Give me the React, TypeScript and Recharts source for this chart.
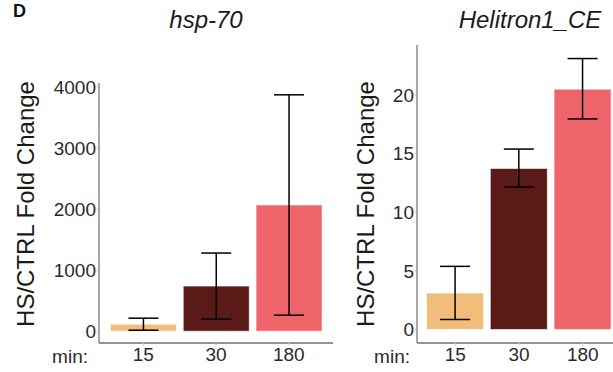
import React from 'react';
import { BarChart, Bar, XAxis, YAxis, ErrorBar, Cell } from 'recharts';

const categories = ['15', '30', '180'];
const barColors = ['#F2BC7B', '#5A1A17', '#EF636B'];

const hspMean = [115, 738, 2066];
const hspLow = [16, 197, 262];
const hspHigh = [213, 1279, 3869];
const hspTicks = [0, 1000, 2000, 3000, 4000];

const heliMean = [3.1, 13.73, 20.49];
const heliLow = [0.85, 12.14, 17.95];
const heliHigh = [5.38, 15.38, 23.1];
const heliTicks = [0, 5, 10, 15, 20];

const panelTitles = ['hsp-70', 'Helitron1_CE'];
const yLabel = 'HS/CTRL Fold Change';
const xPrefix = 'min:';
const panelTag = 'D';

const FONT = '"Liberation Sans", Arial, sans-serif';

function build(mean: number[], low: number[], high: number[]) {
  return categories.map((c, i) => ({
    cat: c,
    value: mean[i],
    err: [mean[i] - low[i], high[i] - mean[i]],
  }));
}

type PanelProps = {
  left: number;
  top: number;
  width: number;
  height: number;
  yAxisWidth: number;
  marginRight: number;
  data: any[];
  ticks: number[];
  maxHigh: number;
  pad: number;
  capWidth: number;
};

function Panel(p: PanelProps) {
  const domain = [-0.05 * p.maxHigh, 1.05 * p.maxHigh];
  return (
    <div style={{ position: 'absolute', left: p.left, top: 0 }}>
      <BarChart
        width={p.width}
        height={p.height}
        data={p.data}
        margin={{ top: p.top, right: p.marginRight, left: 0, bottom: 0 }}
        barCategoryGap="5%"
      >
        <XAxis
          dataKey="cat"
          height={29}
          padding={{ left: p.pad, right: p.pad }}
          axisLine={{ stroke: '#707070', strokeWidth: 1.5 }}
          tickLine={{ stroke: '#d8d8d8' }}
          tickSize={3}
          tickMargin={2}
          tick={{ fill: '#2a2a2a', fontSize: 19, fontFamily: FONT }}
          interval={0}
        />
        <YAxis
          type="number"
          width={p.yAxisWidth}
          domain={domain}
          allowDataOverflow
          ticks={p.ticks}
          axisLine={{ stroke: '#8a8a8a', strokeWidth: 1.5 }}
          tickLine={{ stroke: '#b0b0b0' }}
          tickSize={2}
          tickMargin={1}
          tick={{ fill: '#2a2a2a', fontSize: 19, fontFamily: FONT }}
        />
        <Bar dataKey="value" isAnimationActive={false} stroke="rgba(255,255,255,0.6)" strokeWidth={1}>
          {p.data.map((d, i) => (
            <Cell key={d.cat} fill={barColors[i]} />
          ))}
          <ErrorBar dataKey="err" width={p.capWidth} stroke="#000" strokeWidth={1.5} direction="y" />
        </Bar>
      </BarChart>
    </div>
  );
}

export default function App() {
  const hspData = build(hspMean, hspLow, hspHigh);
  const heliData = build(heliMean, heliLow, heliHigh);
  return (
    <div
      style={{
        position: 'absolute',
        left: 0,
        top: 0,
        width: 613,
        height: 372,
        overflow: 'hidden',
        background: '#fff',
        fontFamily: FONT,
      }}
    >
      <Panel
        left={0}
        top={83}
        width={340}
        height={372}
        yAxisWidth={99}
        marginRight={7}
        data={hspData}
        ticks={hspTicks}
        maxHigh={Math.max(...hspHigh)}
        pad={7.8}
        capWidth={15}
      />
      <Panel
        left={340}
        top={45}
        width={290}
        height={372}
        yAxisWidth={77}
        marginRight={9}
        data={heliData}
        ticks={heliTicks}
        maxHigh={Math.max(...heliHigh)}
        pad={6.4}
        capWidth={15}
      />
      <svg
        width={613}
        height={372}
        style={{ position: 'absolute', left: 0, top: 0, pointerEvents: 'none' }}
      >
        <text x={13} y={17} fontSize={18} fontWeight="bold" fill="#111" fontFamily={FONT}>
          {panelTag}
        </text>
        <text x={206} y={28} fontSize={24} fontStyle="italic" textAnchor="middle" fill="#1a1a1a" fontFamily={FONT}>
          {panelTitles[0]}
        </text>
        <text x={530} y={28} fontSize={24} fontStyle="italic" textAnchor="middle" fill="#1a1a1a" fontFamily={FONT}>
          {panelTitles[1]}
        </text>
        <text
          transform="translate(34,204) rotate(-90)"
          fontSize={24}
          textAnchor="middle"
          fill="#1a1a1a"
          fontFamily={FONT}
        >
          {yLabel}
        </text>
        <text
          transform="translate(374,204) rotate(-90)"
          fontSize={24}
          textAnchor="middle"
          fill="#1a1a1a"
          fontFamily={FONT}
        >
          {yLabel}
        </text>
        <text x={88} y={363} fontSize={19} textAnchor="end" fill="#2a2a2a" fontFamily={FONT}>
          {xPrefix}
        </text>
        <text x={410} y={363} fontSize={19} textAnchor="end" fill="#2a2a2a" fontFamily={FONT}>
          {xPrefix}
        </text>
      </svg>
    </div>
  );
}
